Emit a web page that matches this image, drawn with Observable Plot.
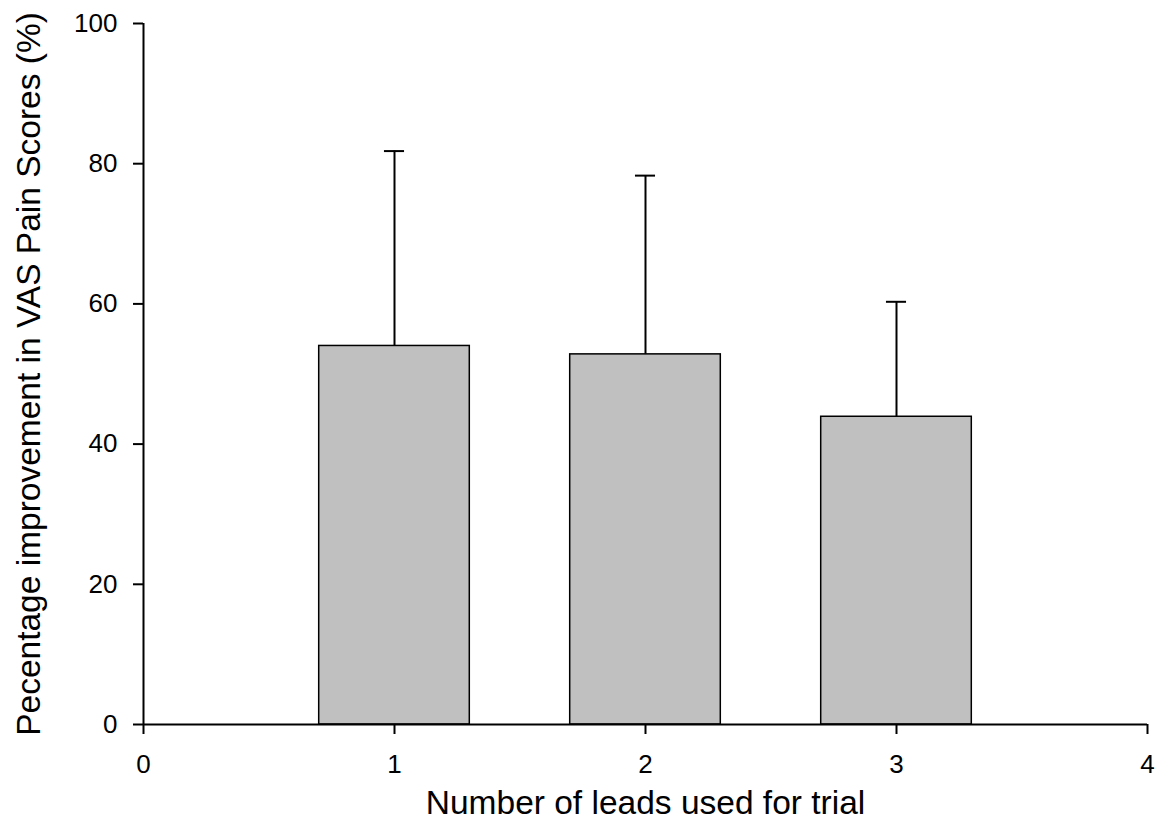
<!DOCTYPE html>
<html>
<head>
<meta charset="utf-8">
<script src="https://cdn.jsdelivr.net/npm/d3@7"></script>
<script src="https://cdn.jsdelivr.net/npm/@observablehq/plot@0.6"></script>
<style>
  html, body { margin: 0; padding: 0; background: #fff; }
  #chart { width: 1156px; height: 818px; }
</style>
</head>
<body>
<div id="chart"></div>
<script>
// Data
const leads = [1, 2, 3];
const meanImprovement = [54.0, 52.8, 43.9];
const upperError = [81.8, 78.3, 60.3];
const xTicks = [0, 1, 2, 3, 4];
const yTicks = [0, 20, 40, 60, 80, 100];
const xLabel = "Number of leads used for trial";
const yLabel = "Pecentage improvement in VAS Pain Scores (%)";

const rows = leads.map((l, i) => ({lead: l, mean: meanImprovement[i], upper: upperError[i]}));
const barHalf = 0.3;
const capHalf = 0.04;

const chart = Plot.plot({
  width: 1156,
  height: 818,
  marginLeft: 143,
  marginRight: 9,
  marginTop: 23,
  marginBottom: 94,
  style: {fontFamily: "'Liberation Sans', Arial, sans-serif", color: "#000", background: "#fff", overflow: "visible"},
  x: {domain: [0, 4]},
  y: {domain: [0, 100]},
  marks: [
    Plot.ruleX(rows, {x: "lead", y1: "mean", y2: "upper", stroke: "#000", strokeWidth: 2}),
    Plot.ruleY(rows, {y: "upper", x1: d => d.lead - capHalf, x2: d => d.lead + capHalf, stroke: "#000", strokeWidth: 2}),
    Plot.rectY(rows, {x1: d => d.lead - barHalf, x2: d => d.lead + barHalf, y1: 0, y2: "mean", fill: "#c0c0c0", stroke: "#000", strokeWidth: 1.5}),
    Plot.axisX({ticks: xTicks, tickSize: 10, tickPadding: 20, fontSize: 26, strokeWidth: 2, label: null, tickFormat: d => String(d)}),
    Plot.axisY({ticks: yTicks, tickSize: 10, tickPadding: 16, fontSize: 26, strokeWidth: 2, label: null, tickFormat: d => String(d)}),
    Plot.ruleY([0], {stroke: "#000", strokeWidth: 2}),
    Plot.ruleX([0], {stroke: "#000", strokeWidth: 2}),
    Plot.text([xLabel], {frameAnchor: "bottom", dy: 79, fontSize: 33.5, lineAnchor: "middle", textAnchor: "middle", fill: "#000"}),
    Plot.text([yLabel], {frameAnchor: "left", dx: -114, rotate: -90, fontSize: 33.5, lineAnchor: "middle", textAnchor: "middle", fill: "#000"})
  ]
});
document.getElementById("chart").appendChild(chart);
</script>
</body>
</html>
